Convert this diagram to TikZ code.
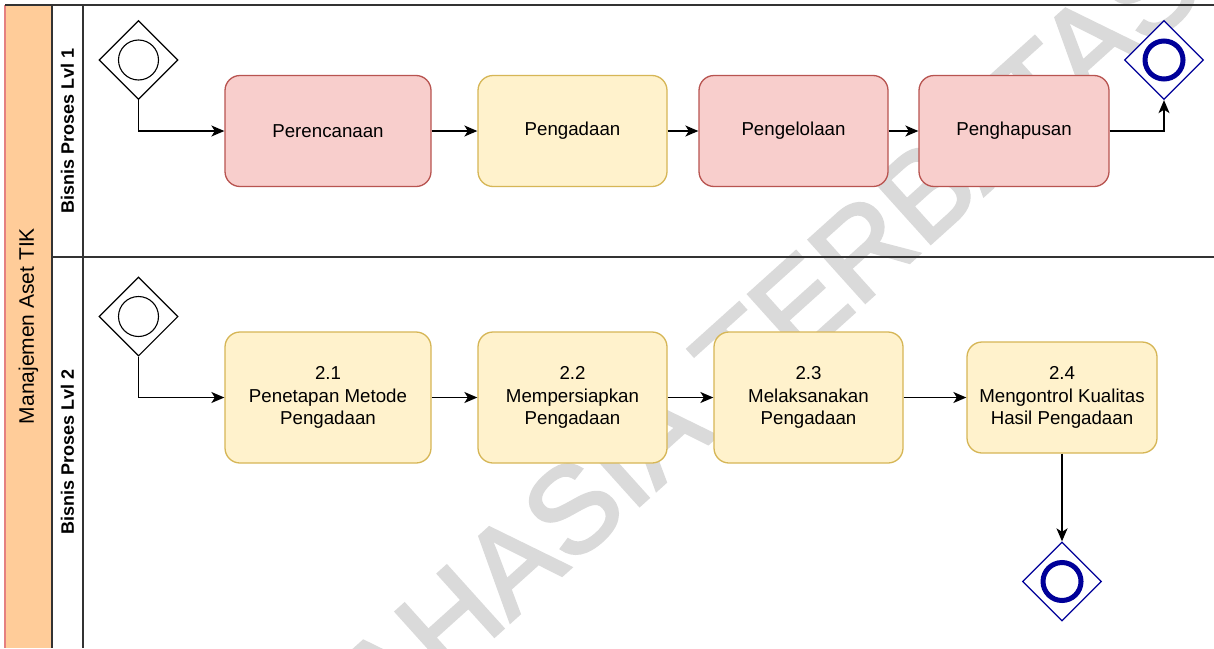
\documentclass[tikz,border=0pt]{standalone}
\usepackage{fontspec}
\setmainfont{Liberation Sans}
\newfontfamily\stampfont{Liberation Sans}[FakeBold=2.5]
\usetikzlibrary{shapes.geometric, arrows.meta}

\definecolor{redfill}{HTML}{F8CECC}
\definecolor{redline}{HTML}{B85450}
\definecolor{yelfill}{HTML}{FFF2CC}
\definecolor{yelline}{HTML}{D6B656}
\definecolor{poolfill}{HTML}{FFCC99}
\definecolor{pooledge}{HTML}{E58080}
\definecolor{endblue}{HTML}{000099}
\definecolor{stamp}{HTML}{DADADA}
\definecolor{laneline}{HTML}{333333}

\begin{document}
\begin{tikzpicture}[x=1pt, y=-1pt,
  task/.style={rectangle, rounded corners=15pt, line width=1.3pt, inner sep=0pt,
    align=center, font=\fontsize{18.7}{22.5}\selectfont},
  redtask/.style={task, fill=redfill, draw=redline},
  yeltask/.style={task, fill=yelfill, draw=yelline},
  gate/.style={diamond, shape aspect=1, minimum size=79pt, inner sep=0pt, fill=white},
  startgate/.style={gate, draw=black, line width=1.1pt},
  endgate/.style={gate, draw=endblue, line width=1.3pt},
  startring/.style={circle, draw=black, line width=1.1pt, minimum size=40pt, inner sep=0pt},
  endring/.style={circle, draw=endblue, line width=5pt, minimum size=38pt, inner sep=0pt},
  flow/.style={draw=black, line width=1.5pt, -{Stealth[length=13pt, width=11pt, inset=3.5pt]}},
  lane/.style={draw=laneline, line width=1.6pt},
  lanelabel/.style={rotate=90, font=\fontsize{18}{20}\selectfont\bfseries},
]
\useasboundingbox (0,0) rectangle (1214,648);
\fill[white] (0,0) rectangle (1214,648);

% watermark stamp behind the diagram
\begin{scope}
  \clip (0,0) rectangle (1214,648);
  \node[rotate=42, inner sep=0pt, text=stamp,
        font=\stampfont\fontsize{122}{122}\selectfont] (stamp) at (735,363)
        {RAHASIA TERBATAS};
\end{scope}

% pool header and lane frames
\fill[poolfill] (5,5) rectangle (52,648);
\draw[pooledge, line width=1.6pt] (5,5) -- (5,648);
\draw[lane] (5,5) -- (1214,5);
\draw[lane] (52,257) -- (1214,257);
\draw[lane] (52,5) -- (52,648);
\draw[lane] (83,5) -- (83,648);

\node[rotate=90, font=\fontsize{21}{24}\selectfont] (pool) at (28.5,326) {Manajemen Aset TIK};
\node[lanelabel] (lane1) at (67.5,131) {Bisnis Proses Lvl 1};
\node[lanelabel] (lane2) at (67.5,452) {Bisnis Proses Lvl 2};

% lane 1
\node[startgate] (s1) at (138.5,60) {};
\node[startring] (s1c) at (138.5,60) {};
\node[redtask, minimum width=206pt, minimum height=111pt] (p1) at (328,131) {Perencanaan};
\node[yeltask, minimum width=189pt, minimum height=111pt] (p2) at (572.5,131) {Pengadaan};
\node[redtask, minimum width=189pt, minimum height=111pt] (p3) at (793.5,131) {Pengelolaan};
\node[redtask, minimum width=190pt, minimum height=111pt] (p4) at (1014,131) {Penghapusan};
\node[endgate] (e1) at (1164,60) {};
\node[endring] (e1c) at (1164,60) {};

\draw[flow] (s1.south) |- (p1.west);
\draw[flow] (p1) -- (p2);
\draw[flow] (p2) -- (p3);
\draw[flow] (p3) -- (p4);
\draw[flow] (p4.east) -| (e1.south);

% lane 2
\node[startgate] (s2) at (138.5,316.5) {};
\node[startring] (s2c) at (138.5,316.5) {};
\node[yeltask, minimum width=206pt, minimum height=131pt] (q1) at (328,397.5) {2.1\\Penetapan Metode\\Pengadaan};
\node[yeltask, minimum width=189pt, minimum height=131pt] (q2) at (572.5,397.5) {2.2\\Mempersiapkan\\Pengadaan};
\node[yeltask, minimum width=189pt, minimum height=131pt] (q3) at (808.5,397.5) {2.3\\Melaksanakan\\Pengadaan};
\node[yeltask, minimum width=190pt, minimum height=111pt] (q4) at (1062,397.5) {2.4\\Mengontrol Kualitas\\Hasil Pengadaan};
\node[endgate] (e2) at (1062,581.5) {};
\node[endring] (e2c) at (1062,581.5) {};

\draw[flow] (s2.south) |- (q1.west);
\draw[flow] (q1) -- (q2);
\draw[flow] (q2) -- (q3);
\draw[flow] (q3) -- (q4);
\draw[flow] (q4) -- (e2.north);
\end{tikzpicture}
\end{document}
